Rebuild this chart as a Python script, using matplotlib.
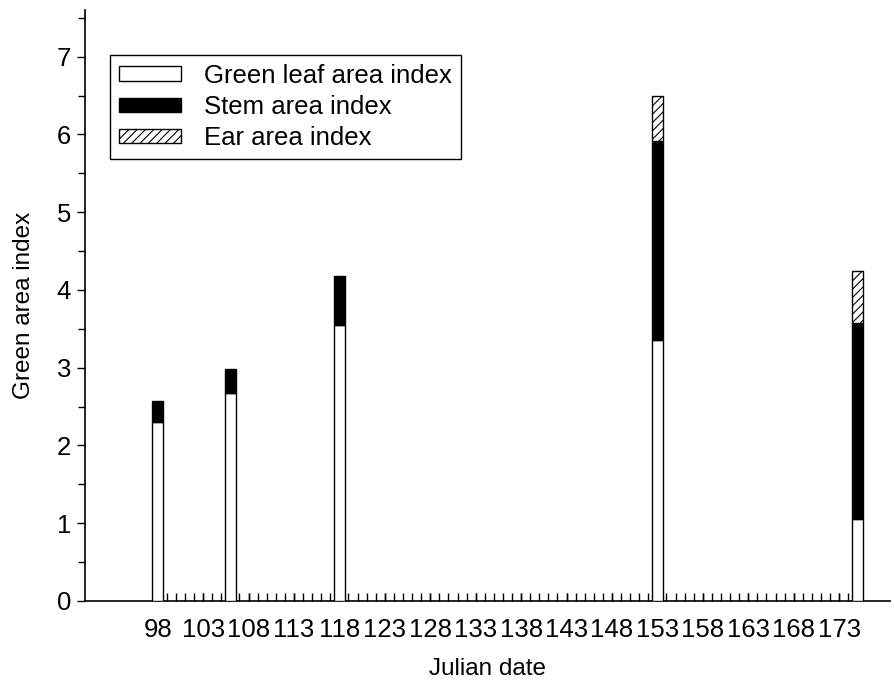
import numpy as np
import matplotlib
matplotlib.use("Agg")
import matplotlib.pyplot as plt
from matplotlib.ticker import FixedLocator, MultipleLocator

plt.rcParams["font.family"] = ["Liberation Sans", "DejaVu Sans"]
plt.rcParams["hatch.linewidth"] = 0.8

# sampling days and area index components
julian_day = [98, 106, 118, 153, 175]
leaf_area = [2.30, 2.68, 3.55, 3.35, 1.05]
stem_area = [0.27, 0.30, 0.63, 2.57, 2.52]
ear_area = [0.0, 0.0, 0.0, 0.58, 0.68]

tick_days = list(range(98, 174, 5))
all_days = list(range(98, 176))

fig = plt.figure(figsize=(8.95, 6.83), dpi=100)
ax = fig.add_axes([85/895, 1 - 601/683, (890 - 85)/895, (601 - 10)/683])

x = np.array(julian_day)
leaf = np.array(leaf_area)
stem = np.array(stem_area)
ear = np.array(ear_area)
w = 1.15

ax.bar(x, leaf, width=w, color="white", edgecolor="black", linewidth=1.0,
       label="Green leaf area index", zorder=3)
ax.bar(x, stem, width=w, bottom=leaf, color="black", edgecolor="black",
       linewidth=1.0, label="Stem area index", zorder=3)
ax.bar(x[ear > 0], ear[ear > 0], width=w, bottom=(leaf + stem)[ear > 0],
       color="white", edgecolor="black", hatch="////", linewidth=1.0,
       label="Ear area index", zorder=3)

ax.set_xlim(90, 178.6)
ax.set_ylim(0, 7.6)

ax.spines["top"].set_visible(False)
ax.spines["right"].set_visible(False)
ax.spines["left"].set_linewidth(1.2)
ax.spines["bottom"].set_linewidth(1.2)

# one small inward tick per day, labels every fifth day
ax.xaxis.set_major_locator(FixedLocator(tick_days))
ax.set_xticklabels([str(d) for d in tick_days])
ax.xaxis.set_minor_locator(FixedLocator(all_days))
ax.xaxis.remove_overlapping_locs = False
ax.tick_params(axis="x", which="major", direction="in", length=6, width=1,
               pad=12, labelsize=18.5)
ax.tick_params(axis="x", which="minor", direction="in", length=6, width=1)

ax.yaxis.set_major_locator(MultipleLocator(1))
ax.yaxis.set_minor_locator(MultipleLocator(0.5))
ax.tick_params(axis="y", which="major", direction="out", length=6, width=1,
               labelsize=18.5, pad=4)
ax.tick_params(axis="y", which="minor", direction="out", length=5, width=1)

ax.set_xlabel("Julian date", fontsize=17.5, labelpad=12)
ax.set_ylabel("Green area index", fontsize=17.5, labelpad=16)

leg = ax.legend(loc="upper left", bbox_to_anchor=(0.031, 0.924),
                borderaxespad=0, fontsize=18.5,
                fancybox=False, edgecolor="black", framealpha=1,
                handlelength=2.4, handleheight=0.5, handletextpad=0.9,
                borderpad=0.35, labelspacing=0.28)
leg.get_frame().set_linewidth(1.0)

fig.savefig("out.png", dpi=100)
